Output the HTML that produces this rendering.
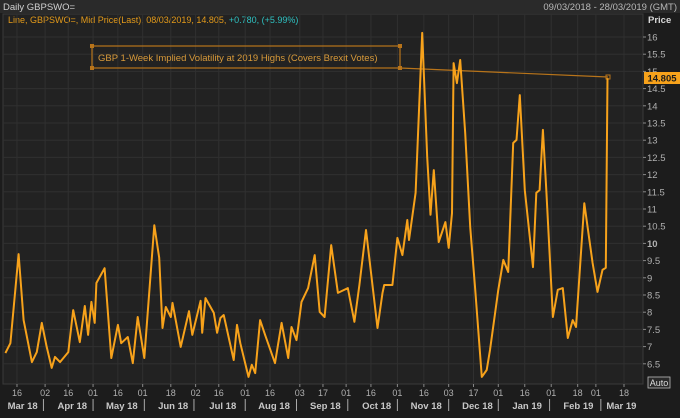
<!DOCTYPE html>
<html><head><meta charset="utf-8">
<style>
html,body{margin:0;padding:0;background:#1c1c1c;}
body{width:680px;height:413px;overflow:hidden;font-family:"Liberation Sans",sans-serif;}
svg text{font-family:"Liberation Sans",sans-serif;}
</style></head>
<body>
<svg id="chart" width="680" height="413" viewBox="0 0 680 413" xmlns="http://www.w3.org/2000/svg">
  <rect x="0" y="0" width="680" height="413" fill="#1c1c1c"/>
  <rect x="0" y="0" width="680" height="13" fill="#2a2a2a"/>
  <text x="3" y="10" font-size="9.5" fill="#d0d0d0">Daily GBPSWO=</text>
  <text x="677" y="10" font-size="9.5" fill="#b8b8b8" text-anchor="end">09/03/2018 - 28/03/2019 (GMT)</text>
  <rect x="3" y="14" width="640" height="370" fill="#222222" stroke="#3a3a3a" stroke-width="1"/>
  <text x="8" y="23" font-size="9" fill="#e39a1a">Line, GBPSWO=, Mid Price(Last), 08/03/2019, 14.805, <tspan fill="#2fc2c2">+0.780, (+5.99%)</tspan></text>
  <text x="648" y="23" font-size="9.5" fill="#d8d8d8" font-weight="bold">Price</text>
  <g id="grid"></g>
  <g id="yaxis"></g>
  <g id="xaxis"></g>
  <g>
    <line x1="400" y1="68" x2="608" y2="77" stroke="#b8741a" stroke-width="1.2"/>
    <rect x="92" y="46" width="308" height="22" fill="none" stroke="#b8741a" stroke-width="1.2"/>
    <rect x="90" y="44" width="4" height="4" fill="#b8741a"/><rect x="398" y="44" width="4" height="4" fill="#b8741a"/>
    <rect x="90" y="66" width="4" height="4" fill="#b8741a"/><rect x="398" y="66" width="4" height="4" fill="#b8741a"/>
    <rect x="606" y="75" width="4" height="4" fill="none" stroke="#b8741a"/>
    <text x="98" y="61" font-size="9.5" fill="#d89a3a">GBP 1-Week Implied Volatility at 2019 Highs (Covers Brexit Votes)</text>
  </g>
  <path id="series" fill="none" stroke="#f7a21b" stroke-width="2" stroke-linejoin="round"/>
  <rect x="644" y="72" width="36" height="12" fill="#f7a21b"/>
  <text id="lastlbl" x="662" y="81.5" font-size="9.5" font-weight="bold" fill="#1c1c1c" text-anchor="middle">14.805</text>
  <rect x="648" y="377" width="22" height="11" fill="#2a2a2a" stroke="#bbb" stroke-width="0.8"/>
  <text x="659" y="386" font-size="9" fill="#ddd" text-anchor="middle">Auto</text>
</svg>
<script>
const dayIdx=[0,3,8,11,16,19,22,25,28,30,33,38,41,45,48,50,52,54,55,60,64,68,70,74,77,80,84,90,93,95,97,100,101,106,111,113,118,119,121,126,128,130,132,138,140,142,147,149,151,154,157,163,167,171,173,176,179,183,187,190,193,197,201,207,211,214,218,225,228,229,234,237,240,243,244,248,252,255,257,259,262,264,266,268,270,271,273,275,278,281,284,288,291,293,298,301,304,307,309,311,314,319,321,323,325,327,331,334,337,340,343,345,350,355,358,361,363,364];
const values=[6.81,7.10,9.69,7.77,6.55,6.84,7.69,6.99,6.38,6.70,6.55,6.84,8.06,7.13,8.18,7.34,8.30,7.69,8.85,9.28,6.67,7.63,7.10,7.28,6.52,7.86,6.67,10.53,9.58,7.54,8.15,7.86,8.27,6.99,8.03,7.34,8.33,7.40,8.41,7.98,7.40,7.83,7.92,6.61,7.63,7.10,6.12,6.47,6.23,7.77,7.34,6.52,7.69,6.67,7.57,7.19,8.30,8.70,9.66,8.01,7.86,9.95,8.56,8.70,7.72,8.79,10.39,7.54,8.56,8.79,8.79,10.16,9.66,10.68,10.10,11.47,16.12,12.51,10.83,12.13,10.04,10.33,10.62,9.87,10.88,15.24,14.66,15.33,13.21,10.48,8.70,6.12,6.32,6.90,8.65,9.52,9.17,12.92,13.01,14.31,11.55,9.31,11.47,11.55,13.30,11.55,7.86,8.65,8.70,7.25,7.77,7.57,11.17,9.43,8.59,9.23,9.29,14.805];
const yTicks=[6.5,7,7.5,8,8.5,9,9.5,10,10.5,11,11.5,12,12.5,13,13.5,14,14.5,15,15.5,16];
const dayTicks=[7,24,38,53,68,83,100,115,129,145,160,178,192,206,221,237,253,268,283,298,314,330,346,357,374];
const dayTickLabels=["16","02","16","01","16","01","18","02","16","01","16","03","17","01","16","01","16","03","17","01","16","01","18","01","18"];
const monthStarts=[0,23,53,84,114,145,176,207,237,268,298,329,360];
const monthLabels=["Mar 18","Apr 18","May 18","Jun 18","Jul 18","Aug 18","Sep 18","Oct 18","Nov 18","Dec 18","Jan 19","Feb 19","Mar 19"];
const monthMid=[8,38,68,99,129,160,191,222,252,283,313,344,370];

const NS="http://www.w3.org/2000/svg";
const X=d=>5.4+d*1.654;
const Y=v=>37+(16-v)*34.4;
function mk(tag,attrs,parent){const e=document.createElementNS(NS,tag);for(const k in attrs)e.setAttribute(k,attrs[k]);parent.appendChild(e);return e;}
const grid=document.getElementById('grid'),ya=document.getElementById('yaxis'),xa=document.getElementById('xaxis');
yTicks.forEach(v=>{
  const g=mk('line',{x1:3,x2:643,y1:Y(v),y2:Y(v),stroke:'#303030','stroke-width':1},grid);
  
  
  mk('line',{x1:643,x2:646,y1:Y(v),y2:Y(v),stroke:'#888'},ya);
  const t=mk('text',{x:647,y:Y(v)+3.5,'font-size':9.5,fill:'#b0b0b0'},ya);
  
  
  t.setAttribute('font-weight',v===10?'bold':'normal');
  t.textContent=String(v);
});
dayTicks.forEach((d,i)=>{
  const g=mk('line',{x1:X(d),x2:X(d),y1:14,y2:384,stroke:'#303030','stroke-width':1},grid);
  
  
  mk('line',{x1:X(d),x2:X(d),y1:384,y2:387,stroke:'#888'},xa);
  const t=mk('text',{x:X(d),y:396,'font-size':9,fill:'#b0b0b0','text-anchor':'middle'},xa);
  
  
  t.textContent=dayTickLabels[i];
});
monthStarts.forEach((d,i)=>{
  if(i>0){const s=mk('line',{x1:X(d),x2:X(d),y1:399,y2:411,stroke:'#aaa'},xa);
  
  }
  const t=mk('text',{x:X(monthMid[i])+4,y:409,'font-size':9.5,fill:'#c8c8c8','text-anchor':'middle','font-weight':'bold'},xa);
  
  
  t.textContent=monthLabels[i];
});
let d='';
dayIdx.forEach((dd,i)=>{d+=(i?'L':'M')+X(dd).toFixed(1)+','+Y(values[i]).toFixed(1);});
document.getElementById('series').setAttribute('d',d);
</script>
</body></html>
